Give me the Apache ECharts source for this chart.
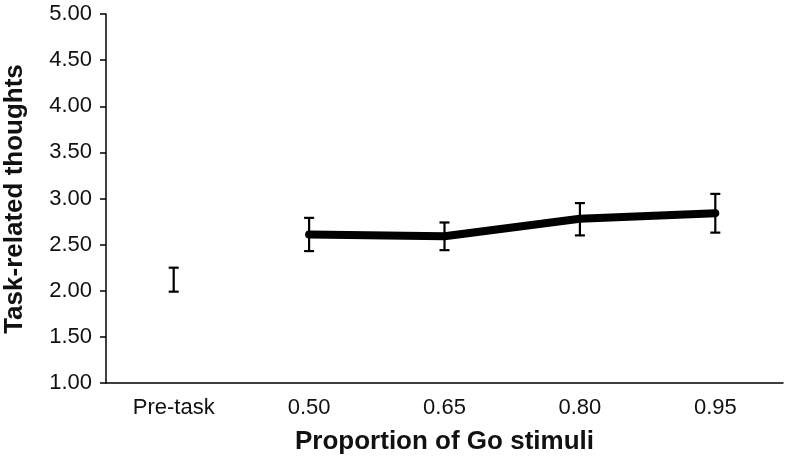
<!DOCTYPE html>
<html>
<head>
<meta charset="utf-8">
<script src="https://cdn.jsdelivr.net/npm/echarts@6/dist/echarts.min.js"></script>
<style>html,body{margin:0;padding:0;background:#fff}#c{width:786px;height:462px}</style>
</head>
<body>
<div id="c"></div>
<script>
var categories = ['Pre-task', '0.50', '0.65', '0.80', '0.95'];
var means = [null, 2.61, 2.59, 2.78, 2.84];
var errLow = [1.99, 2.43, 2.44, 2.60, 2.63];
var errHigh = [2.25, 2.79, 2.74, 2.95, 3.05];
var yTicks = [1, 1.5, 2, 2.5, 3, 3.5, 4, 4.5, 5];
var xTitle = 'Proportion of Go stimuli';
var yTitle = 'Task-related thoughts';

var errData = categories.map(function (c, i) { return [i, errLow[i], errHigh[i]]; });
var FONT = 'Liberation Sans, Arial, sans-serif';

var chart = echarts.init(document.getElementById('c'), null, {renderer: 'canvas'});
chart.setOption({
  animation: false,
  backgroundColor: '#fff',
  grid: {left: 106, right: 3, top: 14, bottom: 79, containLabel: false},
  xAxis: {
    type: 'category',
    data: categories,
    boundaryGap: true,
    axisLine: {lineStyle: {color: '#000', width: 1.5}},
    axisTick: {show: false},
    axisLabel: {color: '#111', fontSize: 22, fontFamily: FONT, margin: 14},
    name: xTitle,
    nameLocation: 'middle',
    nameGap: 46,
    nameTextStyle: {color: '#111', fontSize: 26, fontWeight: 'bold', fontFamily: FONT}
  },
  yAxis: {
    type: 'value',
    min: yTicks[0],
    max: yTicks[yTicks.length - 1],
    interval: 0.5,
    splitLine: {show: false},
    axisLine: {show: true, lineStyle: {color: '#000', width: 1.5}},
    axisTick: {show: true, length: 6, lineStyle: {color: '#000', width: 1.5}},
    axisLabel: {color: '#111', fontSize: 22, fontFamily: FONT, margin: 14,
      formatter: function (v) { return v.toFixed(2); }}
  },
  graphic: [{
    type: 'text',
    x: 15, y: 199,
    rotation: Math.PI / 2,
    style: {text: yTitle, fill: '#111', font: 'bold 26px ' + FONT, align: 'center', verticalAlign: 'middle'}
  }],
  series: [
    {
      type: 'line',
      data: means,
      showSymbol: false,
      symbol: 'none',
      connectNulls: false,
      lineStyle: {color: '#000', width: 8, cap: 'round', join: 'round'},
      z: 3
    },
    {
      type: 'custom',
      data: errData,
      z: 4,
      renderItem: function (params, api) {
        var x = api.value(0);
        var lo = api.coord([x, api.value(1)]);
        var hi = api.coord([x, api.value(2)]);
        var hw = 5;
        var st = {stroke: '#000', lineWidth: 2.2};
        return {
          type: 'group',
          children: [
            {type: 'line', shape: {x1: lo[0], y1: lo[1], x2: hi[0], y2: hi[1]}, style: st},
            {type: 'line', shape: {x1: lo[0] - hw, y1: lo[1], x2: lo[0] + hw, y2: lo[1]}, style: st},
            {type: 'line', shape: {x1: hi[0] - hw, y1: hi[1], x2: hi[0] + hw, y2: hi[1]}, style: st}
          ]
        };
      }
    }
  ]
});
</script>
</body>
</html>
